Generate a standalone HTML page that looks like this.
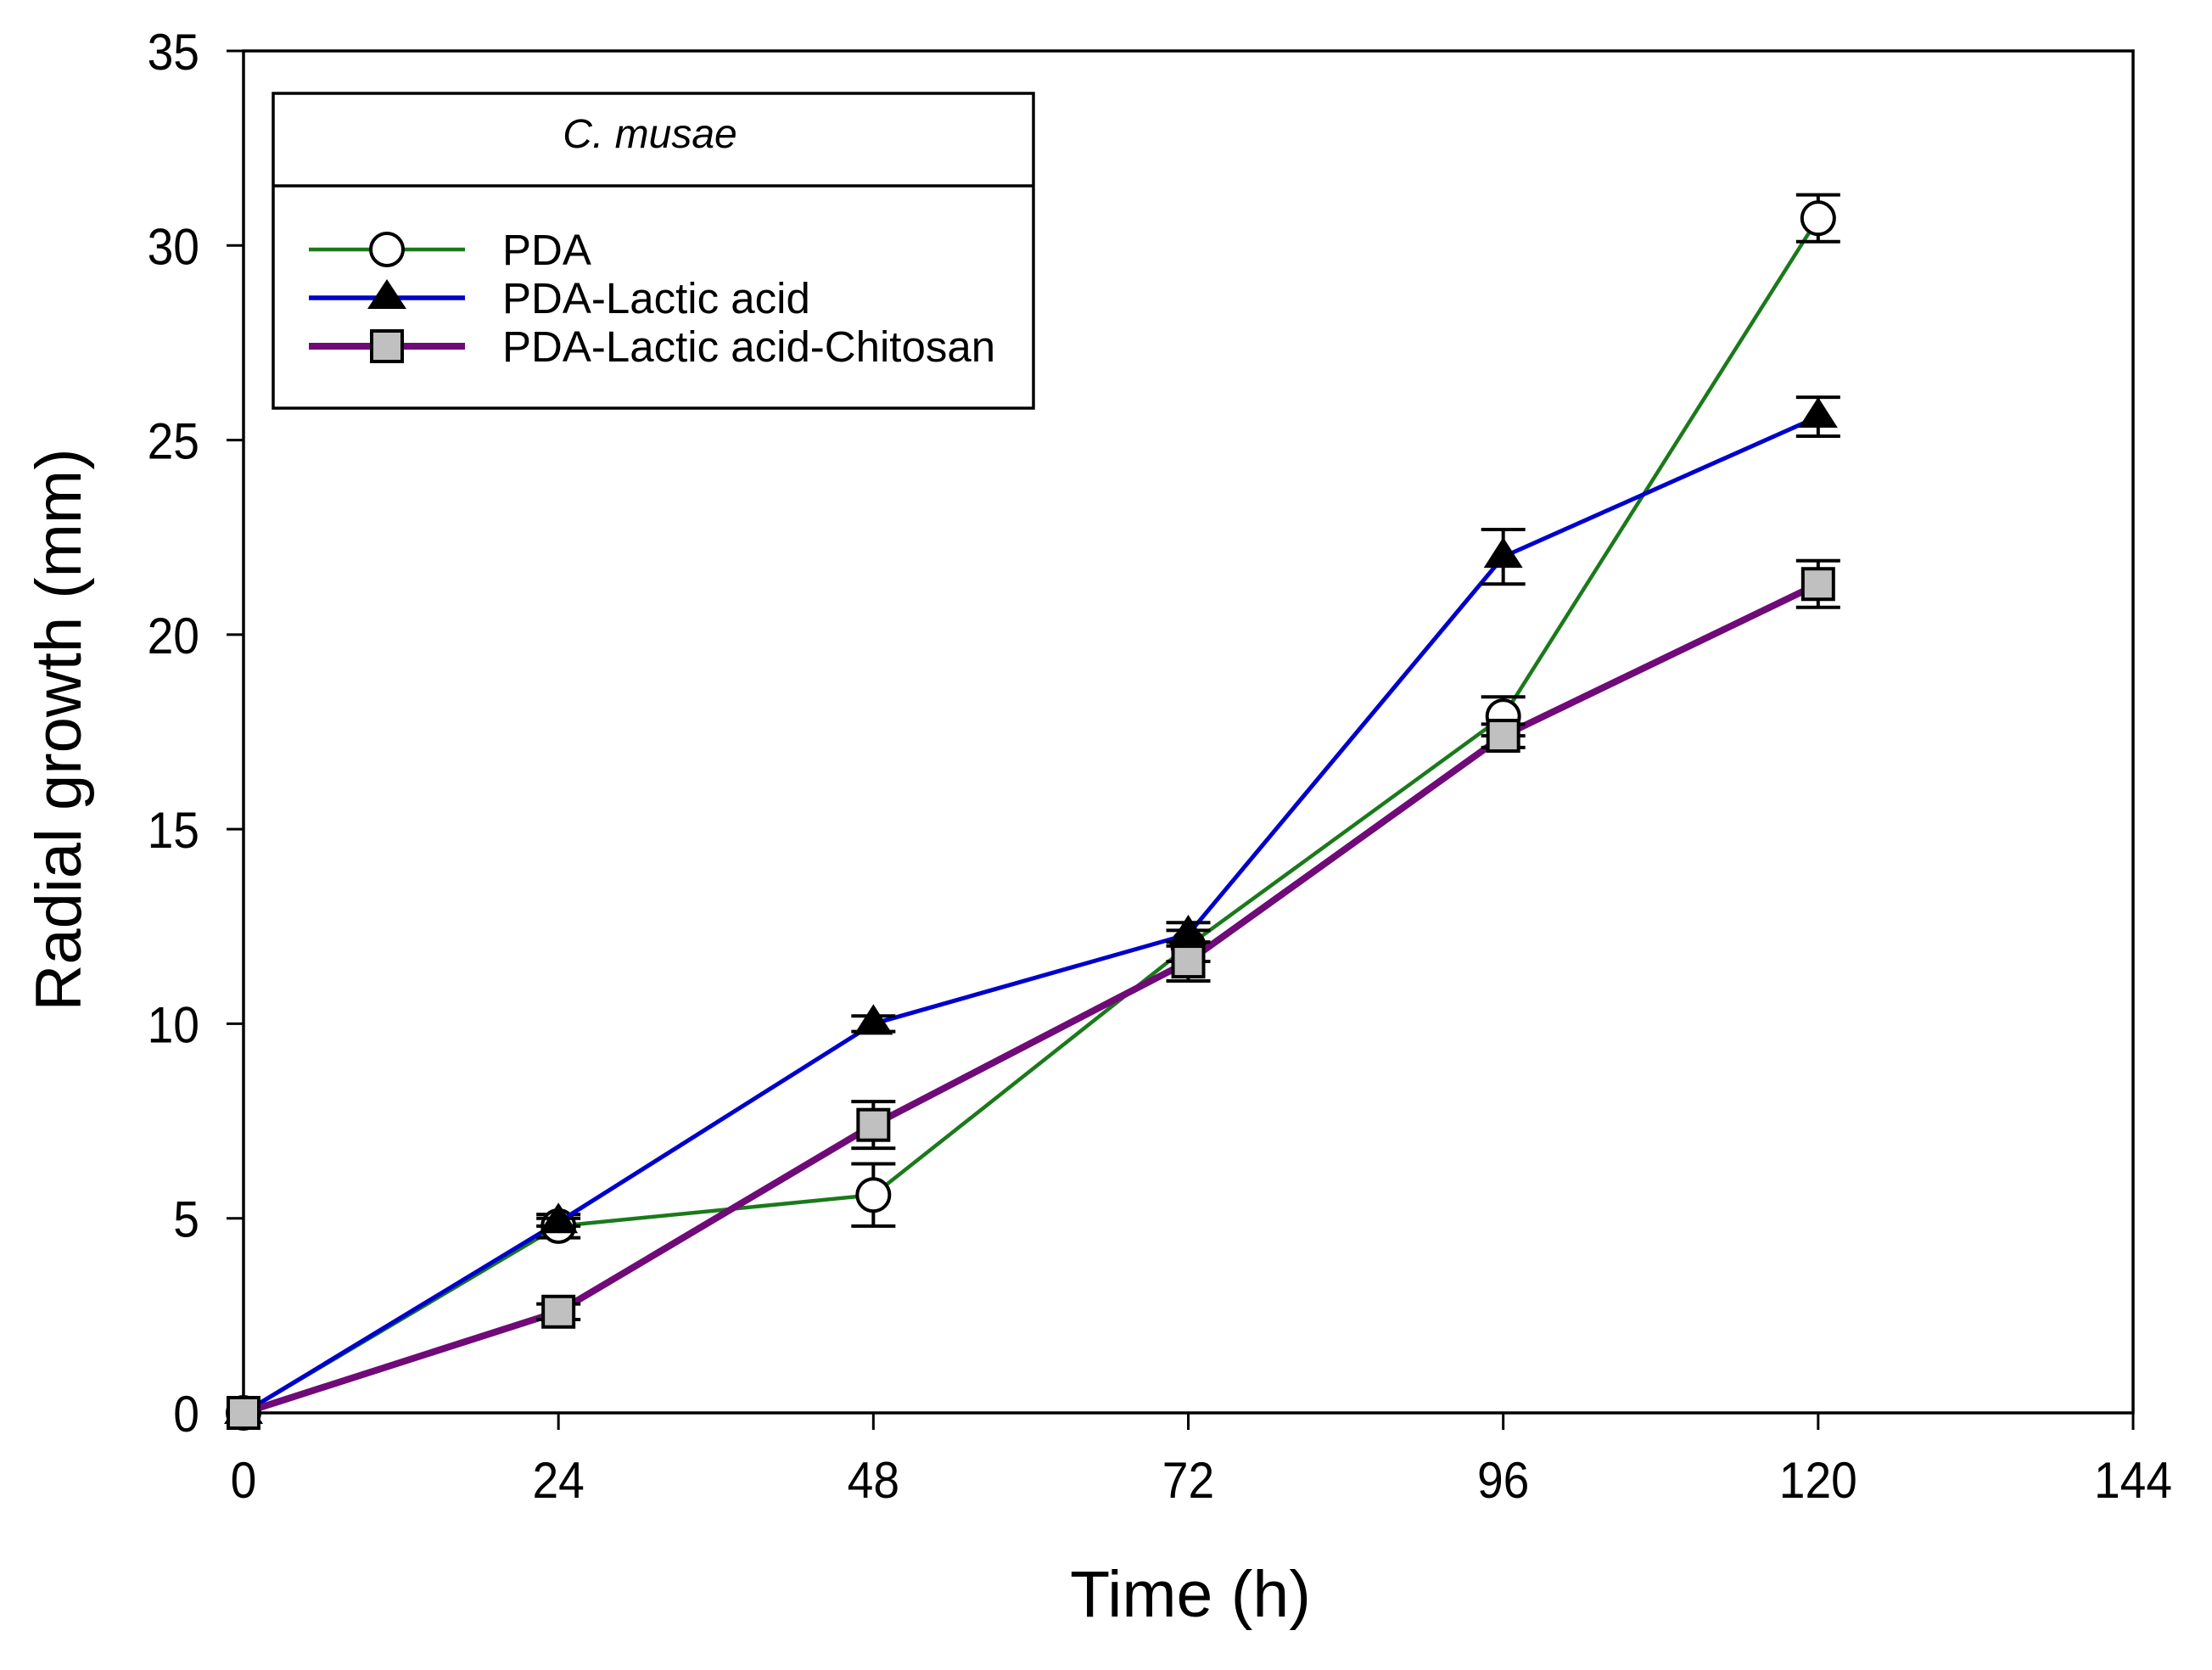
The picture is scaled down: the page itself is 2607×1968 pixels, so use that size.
<!DOCTYPE html>
<html><head><meta charset="utf-8"><style>
html,body{margin:0;padding:0;background:#fff;}
svg{display:block;font-family:"Liberation Sans",Arial,sans-serif;}
</style></head><body>
<svg id="chart" width="2607" height="1968" viewBox="0 0 2607 1968">
<g id="grid-layer"></g>
<g id="series-layer"></g>
<g id="legend">
  <rect x="322" y="110" width="896" height="371" fill="#fff" stroke="#000" stroke-width="3.5"/>
  <line x1="322" y1="219" x2="1218" y2="219" stroke="#000" stroke-width="3.5"/>
  <text x="766" y="174" font-size="48" font-style="italic" text-anchor="middle">C. musae</text>
  <g>
    <line x1="364" y1="294" x2="548" y2="294" stroke="#1a7a1a" stroke-width="4.5"/>
    <circle cx="456" cy="294" r="19" fill="#fff" stroke="#000" stroke-width="4"/>
    <text x="592" y="312" font-size="51">PDA</text>
  </g>
  <g>
    <line x1="364" y1="351" x2="548" y2="351" stroke="#0000cc" stroke-width="5.5"/>
    <polygon points="456,329 479,364 433,364" fill="#000"/>
    <text x="592" y="369" font-size="51">PDA-Lactic acid</text>
  </g>
  <g>
    <line x1="364" y1="408" x2="548" y2="408" stroke="#700a78" stroke-width="8"/>
    <rect x="438" y="390" width="36" height="36" fill="#c0c0c0" stroke="#000" stroke-width="4"/>
    <text x="592" y="426" font-size="51">PDA-Lactic acid-Chitosan</text>
  </g>
</g>
<text x="1403" y="1905" font-size="77" text-anchor="middle">Time (h)</text>
<text transform="translate(95,860) rotate(-90)" font-size="76" text-anchor="middle">Radial growth (mm)</text>
</svg>
<script>
const xTicks = [0, 24, 48, 72, 96, 120, 144];
const yTicks = [0, 5, 10, 15, 20, 25, 30, 35];
const times = [0, 24, 48, 72, 96, 120];
const pdaValues = [0, 4.8, 5.6, 12.0, 17.9, 30.7];
const pdaErrors = [0, 0.3, 0.8, 0.4, 0.5, 0.6];
const lacticValues = [0, 4.9, 10.0, 12.3, 22.0, 25.6];
const lacticErrors = [0, 0.1, 0.2, 0.3, 0.7, 0.5];
const chitosanValues = [0, 2.6, 7.4, 11.6, 17.4, 21.3];
const chitosanErrors = [0, 0.2, 0.6, 0.5, 0.3, 0.6];

const NS = "http://www.w3.org/2000/svg";
const X0 = 287, X1 = 2514, Y0 = 1665, Y1 = 60;
function xs(v){ return X0 + (v - 0) / 144 * (X1 - X0); }
function ys(v){ return Y0 - (v - 0) / 35 * (Y0 - Y1); }
function mk(tag, attrs, parent){ const e = document.createElementNS(NS, tag); for (const k in attrs) e.setAttribute(k, attrs[k]); parent.appendChild(e); return e; }
const grid = document.getElementById('grid-layer');
const ser = document.getElementById('series-layer');

const frame = mk('rect', {x: X0, y: Y1, width: X1 - X0, height: Y0 - Y1, fill: 'none', stroke: '#000', 'stroke-width': 3.5}, grid);



xTicks.forEach(t => {
  const l = mk('line', {x1: xs(t), y1: Y0, x2: xs(t), y2: Y0 + 20, stroke: '#000', 'stroke-width': 3}, grid);
  
  
  const tx = mk('text', {x: xs(t), y: Y0 + 100, 'font-size': 60, 'text-anchor': 'middle', transform: `translate(${xs(t)},0) scale(0.92,1) translate(${-xs(t)},0)`}, grid);
  tx.textContent = t;
  
  
});
yTicks.forEach(t => {
  const l = mk('line', {x1: X0 - 20, y1: ys(t), x2: X0, y2: ys(t), stroke: '#000', 'stroke-width': 3}, grid);
  
  
  const rx = X0 - 52;
  const tx = mk('text', {x: rx, y: ys(t) + 22, 'font-size': 60, 'text-anchor': 'end', transform: `translate(${rx},0) scale(0.92,1) translate(${-rx},0)`}, grid);
  tx.textContent = t;
  
  
});

function drawSeries(name, vals, errs, color, width, marker){
  const g = mk('g', {}, ser);
  
  
  const pts = vals.map((v, i) => xs(times[i]) + ',' + ys(v)).join(' ');
  const line = mk('polyline', {points: pts, fill: 'none', stroke: color, 'stroke-width': width, 'stroke-linejoin': 'round'}, g);
  
  
  vals.forEach((v, i) => {
    const cx = xs(times[i]), cy = ys(v), e = errs[i];
    if (e > 0) {
      const eb = mk('path', {d: `M${cx},${ys(v+e)}V${ys(v-e)}M${cx-26},${ys(v+e)}H${cx+26}M${cx-26},${ys(v-e)}H${cx+26}`, stroke: '#000', 'stroke-width': 4, fill: 'none'}, g);
      
      
    }
    let m;
    if (marker === 'circle') m = mk('circle', {cx: cx, cy: cy, r: 19, fill: '#fff', stroke: '#000', 'stroke-width': 4}, g);
    else if (marker === 'tri') m = mk('polygon', {points: `${cx},${cy-23} ${cx+23},${cy+13} ${cx-23},${cy+13}`, fill: '#000'}, g);
    else m = mk('rect', {x: cx - 18, y: cy - 18, width: 36, height: 36, fill: '#c0c0c0', stroke: '#000', 'stroke-width': 4}, g);
    
    
  });
}
drawSeries('pda', pdaValues, pdaErrors, '#1a7a1a', 4.5, 'circle');
drawSeries('lactic-acid', lacticValues, lacticErrors, '#0000cc', 5, 'tri');
drawSeries('lactic-acid-chitosan', chitosanValues, chitosanErrors, '#700a78', 8, 'square');
</script>
</body></html>
